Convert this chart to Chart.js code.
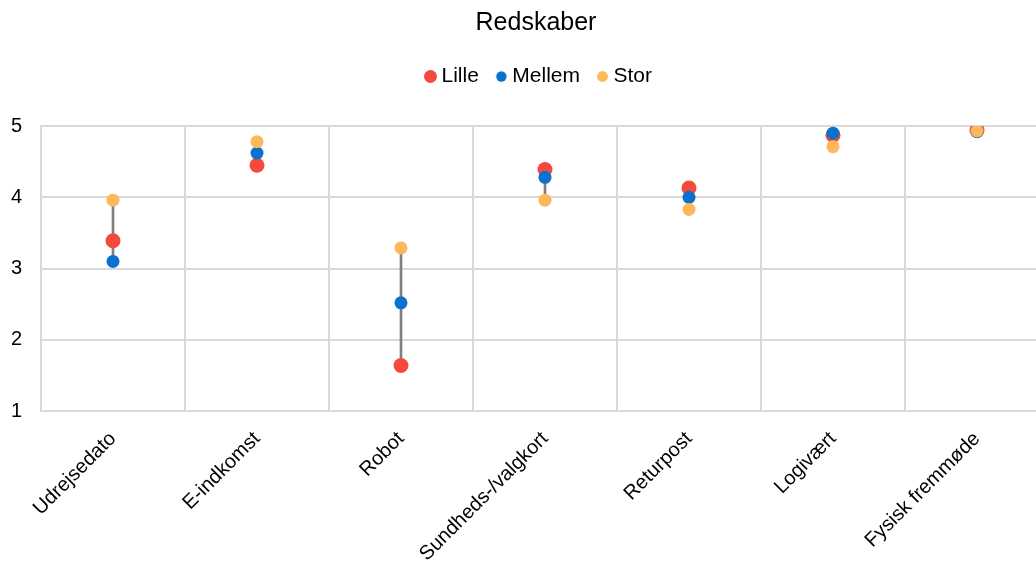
<!DOCTYPE html>
<html>
<head>
<meta charset="utf-8">
<script src="https://cdn.jsdelivr.net/npm/chart.js@4/dist/chart.umd.min.js"></script>
<style>
  html, body { margin: 0; padding: 0; background: #fff; overflow: hidden; }
  #wrap { width: 1072px; height: 566px; position: relative; }
</style>
</head>
<body>
<div id="wrap"><canvas id="chart"></canvas></div>
<script>
const categories = ['Udrejsedato', 'E-indkomst', 'Robot', 'Sundheds-/valgkort', 'Returpost', 'Logivært', 'Fysisk fremmøde'];
const lille  = [3.39, 4.45, 1.64, 4.39, 4.13, 4.87, 4.94];
const mellem = [3.10, 4.62, 2.52, 4.28, 4.00, 4.90, 4.92];
const stor   = [3.96, 4.78, 3.29, 3.96, 3.83, 4.71, 4.93];
const yTicks = [1, 2, 3, 4, 5];

// Vertical span per category, from the lowest to the highest series value
const spans = categories.map((_, i) => {
  const v = [lille[i], mellem[i], stor[i]];
  return [Math.min(...v), Math.max(...v)];
});

const FONT = "'Liberation Sans', Arial, sans-serif";
const GRID = '#d9d9d9';
const COLORS = { Lille: '#f5493d', Mellem: '#0a72cc', Stor: '#fdb85a' };
const LEGEND_DOT = { Lille: 6.5, Mellem: 5.2, Stor: 5.4 };

// Small round legend marker
function dot(r, color) {
  const c = document.createElement('canvas');
  const s = Math.ceil(r * 2) + 2;
  c.width = s; c.height = s;
  const g = c.getContext('2d');
  g.fillStyle = color;
  g.beginPath(); g.arc(s / 2, s / 2, r, 0, Math.PI * 2); g.fill();
  return c;
}

const pointSet = (label, data, r, order) => ({
  type: 'line', label, data, showLine: false, order,
  backgroundColor: COLORS[label], borderColor: COLORS[label], borderWidth: 0,
  pointRadius: r, pointHoverRadius: r, pointStyle: 'circle'
});

// Legend spacing below the row, and horizontal centring of title and legend
const headerLayout = {
  id: 'headerLayout',
  afterInit(chart) {
    const lg = chart.legend;
    if (!lg) return;
    const fit = lg.fit.bind(lg);
    lg.fit = function () { fit(); this.height += 29; };
  },
  afterLayout(chart) {
    if (chart.titleBlock) { chart.titleBlock.left += 6; chart.titleBlock.right += 6; }
    if (chart.legend) { chart.legend.left += 11; chart.legend.right += 11; }
  }
};

new Chart(document.getElementById('chart'), {
  data: {
    labels: categories,
    datasets: [
      { type: 'bar', label: 'span', data: spans, backgroundColor: '#7f7f7f',
        barThickness: 2, order: 10 },
      pointSet('Lille', lille, 7.5, 3),
      pointSet('Mellem', mellem, 6.5, 2),
      pointSet('Stor', stor, 6.5, 1)
    ]
  },
  plugins: [headerLayout],
  options: {
    responsive: true,
    maintainAspectRatio: false,
    animation: false,
    layout: { padding: { left: 11, right: 23, top: 0, bottom: 0 } },
    plugins: {
      title: { display: true, text: 'Redskaber', color: '#000',
        font: { family: FONT, size: 25, weight: 'normal' }, padding: { top: 8, bottom: 6 } },
      legend: {
        display: true, position: 'top',
        labels: {
          filter: item => item.text !== 'span',
          sort: (a, b) => a.datasetIndex - b.datasetIndex,
          generateLabels: chart => Chart.defaults.plugins.legend.labels.generateLabels(chart)
            .map(item => COLORS[item.text]
              ? Object.assign(item, { pointStyle: dot(LEGEND_DOT[item.text], COLORS[item.text]) })
              : item),
          usePointStyle: true, boxWidth: 1, boxHeight: 9,
          padding: 22, color: '#000', font: { family: FONT, size: 21 }
        }
      },
      tooltip: { enabled: false }
    },
    scales: {
      x: {
        offset: true,
        afterFit: s => { s.paddingLeft = 0; s.paddingRight = 0; s.height -= 16; },
        grid: { display: true, offset: true, color: GRID, lineWidth: 2, drawTicks: false },
        border: { display: true, color: GRID, width: 2 },
        ticks: { color: '#000', font: { family: FONT, size: 20 }, maxRotation: 45, minRotation: 45, padding: 16 }
      },
      y: {
        min: 1, max: 5,
        afterBuildTicks: s => { s.ticks = yTicks.map(v => ({ value: v })); },
        afterFit: s => { s.width = 30; },
        grid: { color: GRID, lineWidth: 2, drawTicks: false },
        border: { display: true, color: GRID, width: 2 },
        ticks: { color: '#000', font: { family: FONT, size: 20 }, padding: 19 }
      }
    }
  }
});
</script>
</body>
</html>
